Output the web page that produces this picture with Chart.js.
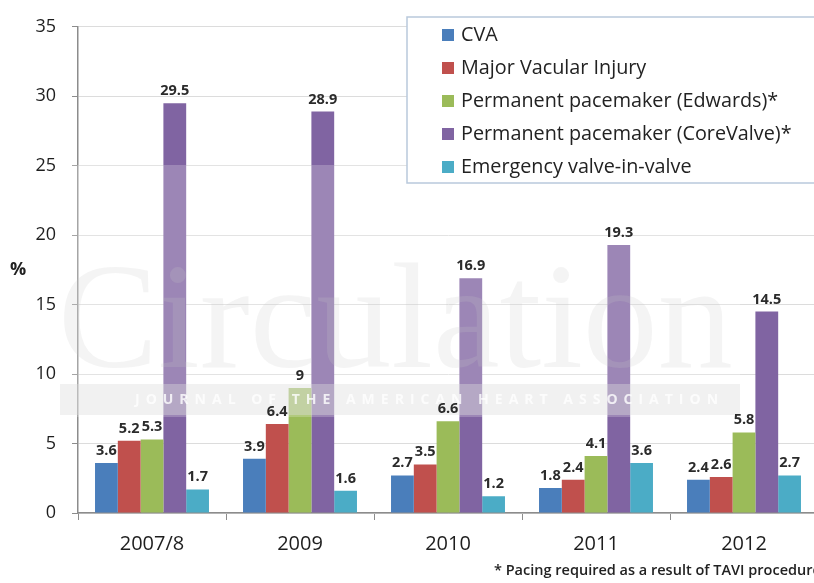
<!DOCTYPE html>
<html>
<head>
<meta charset="utf-8">
<script src="https://cdn.jsdelivr.net/npm/chart.js@4.4.1/dist/chart.umd.min.js"></script>
<style>
  html, body { margin: 0; padding: 0; background: #fff; overflow: hidden; }
  #wrap { position: relative; width: 822px; height: 583px; }
</style>
</head>
<body>
<div id="wrap"><canvas id="chart"></canvas></div>
<script>
const years = ["2007/8", "2009", "2010", "2011", "2012"];
const seriesNames = [
  "CVA",
  "Major Vacular Injury",
  "Permanent pacemaker (Edwards)*",
  "Permanent pacemaker (CoreValve)*",
  "Emergency valve-in-valve"
];
const cva = [3.6, 3.9, 2.7, 1.8, 2.4];
const vascularInjury = [5.2, 6.4, 3.5, 2.4, 2.6];
const pacemakerEdwards = [5.3, 9, 6.6, 4.1, 5.8];
const pacemakerCoreValve = [29.5, 28.9, 16.9, 19.3, 14.5];
const valveInValve = [1.7, 1.6, 1.2, 3.6, 2.7];
const yTicks = [0, 5, 10, 15, 20, 25, 30, 35];
const yTitle = "%";
const footnote = "* Pacing required as a result of TAVI procedure";
const watermark = "Circulation";
const watermarkBanner = "JOURNAL OF THE AMERICAN HEART ASSOCIATION";

const colors = ["#4a7ebb", "#c0504d", "#9bbb59", "#8064a2", "#4bacc6"];
const allSeries = [cva, vascularInjury, pacemakerEdwards, pacemakerCoreValve, valveInValve];
const FONT = "'Open Sans', Lato, sans-serif";

// faint journal watermark laid over the bars
const watermarkPlugin = {
  id: "watermark",
  afterDatasetsDraw(chart) {
    const ctx = chart.ctx;
    ctx.save();
    ctx.fillStyle = "rgba(255,255,255,0.22)";
    ctx.fillRect(60, 165, 680, 252);
    ctx.font = "150px 'Liberation Serif', serif";
    ctx.fillStyle = "rgba(200,200,200,0.2)";
    ctx.textAlign = "left";
    ctx.textBaseline = "alphabetic";
    ctx.fillText(watermark, 58, 367);
    ctx.fillStyle = "rgba(220,220,220,0.4)";
    ctx.fillRect(60, 384, 680, 31);
    ctx.font = "bold 14px " + FONT;
    ctx.letterSpacing = "6px";
    ctx.fillStyle = "rgba(255,255,255,0.8)";
    ctx.textBaseline = "middle";
    ctx.fillText(watermarkBanner, 135, 400);
    ctx.restore();
  }
};

// value labels above each bar
const barLabels = {
  id: "barLabels",
  afterDatasetsDraw(chart) {
    const ctx = chart.ctx;
    ctx.save();
    ctx.font = "bold 14.5px " + FONT;
    ctx.fillStyle = "#2b2b2b";
    ctx.textAlign = "center";
    ctx.textBaseline = "alphabetic";
    chart.data.datasets.forEach((ds, i) => {
      chart.getDatasetMeta(i).data.forEach((bar, j) => {
        ctx.fillText(String(ds.data[j]), bar.x, bar.y - 8);
      });
    });
    ctx.restore();
  }
};

// boxed legend, "%" title and footnote
const extras = {
  id: "extras",
  afterDraw(chart) {
    const ctx = chart.ctx;
    ctx.save();
    ctx.fillStyle = "#fff";
    ctx.fillRect(407, 17, 420, 166);
    ctx.strokeStyle = "#b9c9dc";
    ctx.lineWidth = 1.5;
    ctx.strokeRect(407, 17, 420, 166);
    ctx.font = "19.8px " + FONT;
    ctx.textBaseline = "middle";
    ctx.textAlign = "left";
    seriesNames.forEach((name, i) => {
      const y = 35 + i * 33;
      ctx.fillStyle = colors[i];
      ctx.fillRect(442, y - 6, 12, 12);
      ctx.fillStyle = "#222";
      ctx.fillText(name, 461, y);
    });
    ctx.font = "bold 18px " + FONT;
    ctx.fillStyle = "#222";
    ctx.textAlign = "center";
    ctx.fillText(yTitle, 18, 270);
    ctx.font = "600 14.5px " + FONT;
    ctx.textAlign = "left";
    ctx.fillText(footnote, 494, 571);
    ctx.restore();
  }
};

new Chart(document.getElementById("chart"), {
  type: "bar",
  data: {
    labels: years,
    datasets: seriesNames.map((name, i) => ({
      label: name,
      data: allSeries[i],
      backgroundColor: colors[i],
      categoryPercentage: 0.77,
      barPercentage: 1
    }))
  },
  options: {
    responsive: true,
    maintainAspectRatio: false,
    animation: false,
    layout: { padding: { top: 22, right: 4, left: 0, bottom: 0 } },
    plugins: {
      legend: { display: false },
      tooltip: { enabled: false }
    },
    scales: {
      x: {
        grid: { offset: true, drawOnChartArea: false, tickLength: 7, color: "#8c8c8c" },
        border: { color: "#8c8c8c", width: 1.5 },
        ticks: { font: { family: FONT, size: 20 }, color: "#1e1e1e", padding: 12 },
        afterFit: s => { s.height = 70; }
      },
      y: {
        min: 0,
        max: 35,
        afterBuildTicks: s => { s.ticks = yTicks.map(v => ({ value: v })); },
        grid: { color: "#dcdcdc", tickColor: "#8c8c8c", tickLength: 6 },
        border: { color: "#8c8c8c", width: 1.5 },
        ticks: { font: { family: FONT, size: 18 }, color: "#1e1e1e", padding: 16 },
        afterFit: s => { s.width = 78; }
      }
    }
  },
  plugins: [watermarkPlugin, barLabels, extras]
});
</script>
</body>
</html>
